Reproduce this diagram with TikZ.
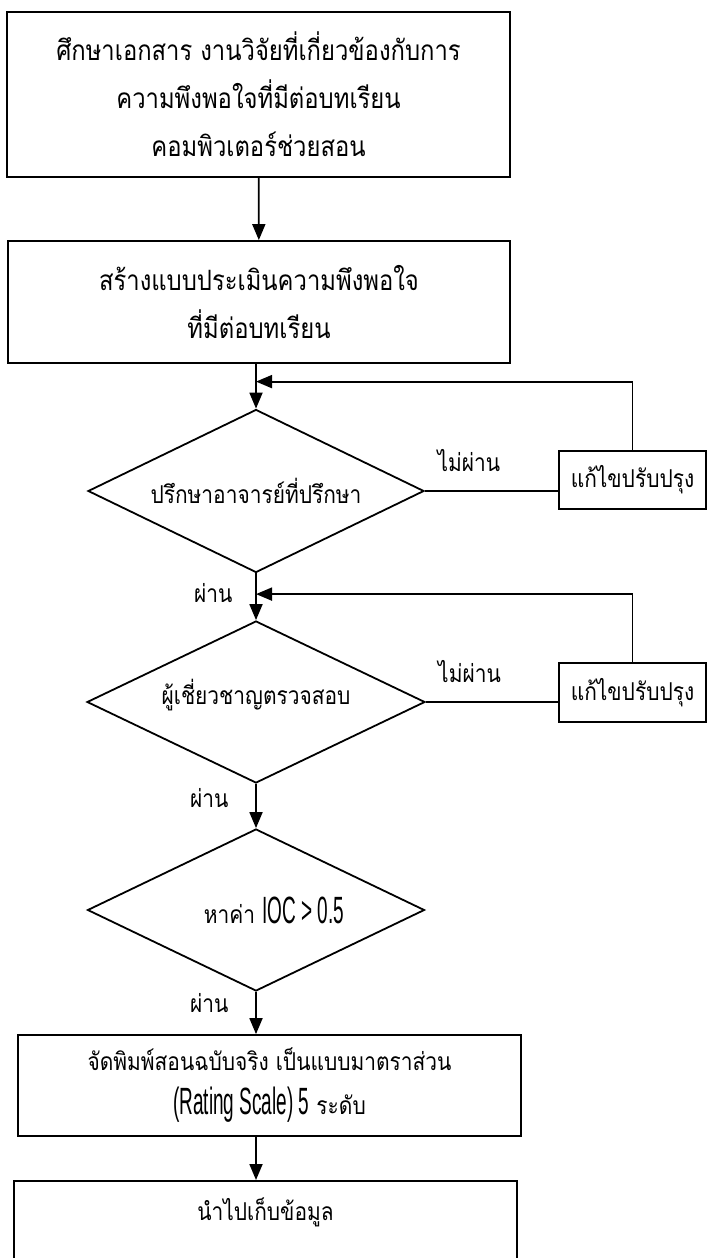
\documentclass[tikz,border=0pt]{standalone}
\usepackage{fontspec}
\setmainfont{Loma}[Script=Thai, FakeStretch=0.85]
\newfontfamily\latinfont[FakeStretch=0.5]{Liberation Sans}
\usetikzlibrary{positioning, shapes.geometric, arrows.meta, calc}

\tikzset{
  procbox/.style={rectangle, draw, line width=0.9pt, align=center, inner sep=0pt},
  decision/.style={diamond, draw, line width=0.9pt, align=center, inner sep=0pt, aspect=2},
  flow/.style={-{Triangle[length=8pt, width=6.5pt]}, line width=0.9pt},
  link/.style={line width=0.9pt},
  bigthai/.style={font=\fontsize{14pt}{24pt}\selectfont},
  smallthai/.style={font=\fontsize{12.3pt}{22pt}\selectfont},
}

\begin{document}
\begin{tikzpicture}[x=0.5pt, y=-0.5pt]
  \useasboundingbox (0,0) rectangle (707,1258);

  % Nodes
  \node[procbox, bigthai, minimum width=251.5pt, minimum height=82.5pt] (study) at (258.5,94.5) {ศึกษาเอกสาร งานวิจัยที่เกี่ยวข้องกับการ\\ความพึงพอใจที่มีต่อบทเรียน\\คอมพิวเตอร์ช่วยสอน};
  \node[procbox, bigthai, minimum width=251pt, minimum height=61pt] (build) at (259,302) {สร้างแบบประเมินความพึงพอใจ\\ที่มีต่อบทเรียน};
  \node[decision, smallthai, minimum width=168pt, minimum height=81.5pt] (advisor) at (256,491) {ปรึกษาอาจารย์ที่ปรึกษา};
  \node[decision, smallthai, minimum width=169pt, minimum height=81pt, text depth=10pt] (expert) at (256,702) {ผู้เชี่ยวชาญตรวจสอบ};
  \node[decision, smallthai, minimum width=168.5pt, minimum height=81pt] (ioc) at (256,910) {\hspace{18pt}หาค่า {\latinfont\fontsize{19pt}{20pt}\selectfont IOC > 0.5}};
  \node[procbox, smallthai, minimum width=251.5pt, minimum height=50.5pt] (print) at (269.5,1085.5) {จัดพิมพ์สอนฉบับจริง เป็นแบบมาตราส่วน\\{\latinfont\fontsize{19pt}{20pt}\selectfont (Rating Scale) 5} ระดับ};
  \node[procbox, smallthai, anchor=north, text width=251.5pt, text height=20pt, text depth=50pt] (collect) at (265.5,1180) {นำไปเก็บข้อมูล};
  \node[procbox, smallthai, minimum width=73.5pt, minimum height=29pt] (revise1) at (632.5,480) {แก้ไขปรับปรุง};
  \node[procbox, smallthai, minimum width=73.5pt, minimum height=29.5pt] (revise2) at (632.5,692.5) {แก้ไขปรับปรุง};

  \coordinate (join1) at ($(advisor.north)+(0,-27)$);
  \coordinate (join2) at ($(expert.north)+(0,-26)$);

  % Arrows
  \draw[flow] (study) -- (build);
  \draw[flow] (build.south -| advisor.north) -- (advisor.north);
  \draw[flow] (advisor.south) -- node[smallthai, left=8pt, pos=0.43] {ผ่าน} (expert.north);
  \draw[flow] (expert.south) -- node[smallthai, left=10pt, pos=0.33] {ผ่าน} (ioc.north);
  \draw[flow] (ioc.south) -- node[smallthai, left=10pt, pos=0.27] {ผ่าน} (ioc.south |- print.north);
  \draw[flow] (print.south -| ioc.south) -- (collect.north -| ioc.south);

  % Feedback loops
  \draw[link] (advisor.east) -- node[smallthai, above=6pt, pos=0.33] {ไม่ผ่าน} (advisor.east -| revise1.west);
  \draw[flow] (revise1.north) |- (join1);
  \draw[link] (expert.east) -- node[smallthai, above=6pt, pos=0.33] {ไม่ผ่าน} (expert.east -| revise2.west);
  \draw[flow] (revise2.north) |- (join2);

\end{tikzpicture}
\end{document}
